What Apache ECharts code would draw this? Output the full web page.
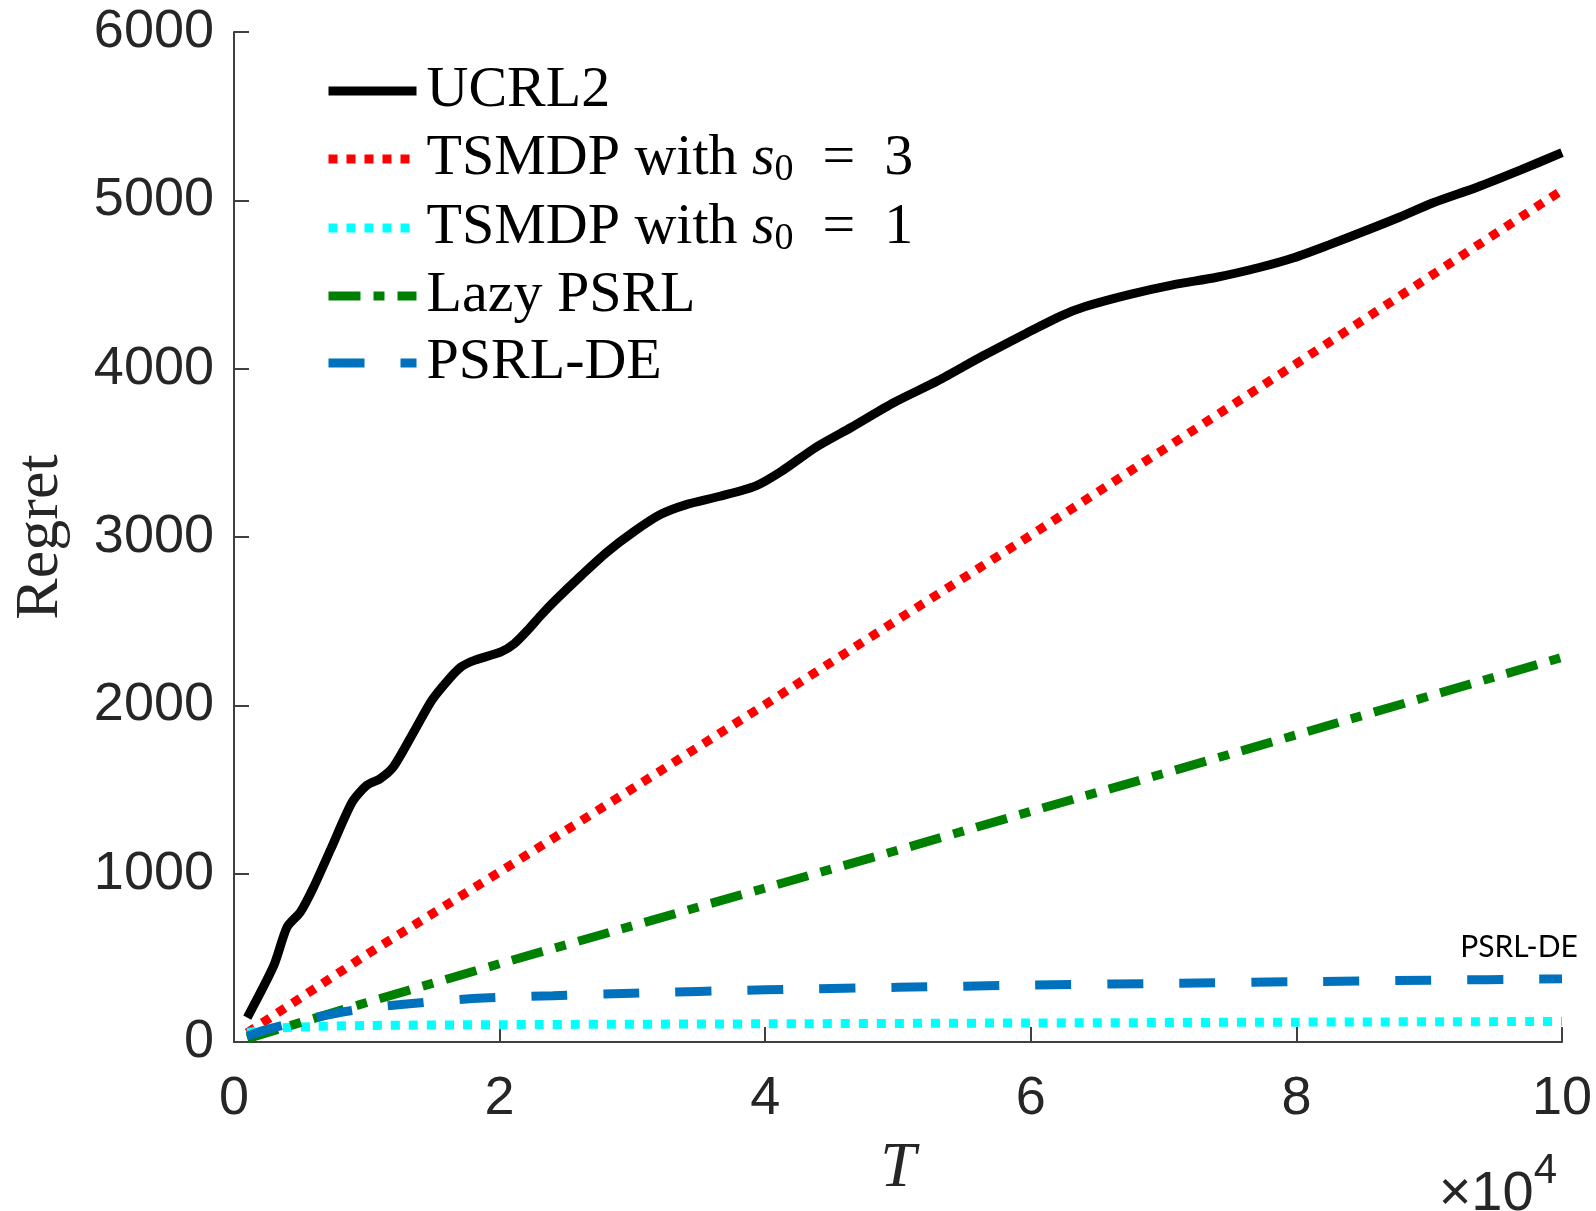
<!DOCTYPE html>
<html>
<head>
<meta charset="utf-8">
<script src="https://cdn.jsdelivr.net/npm/echarts@6/dist/echarts.min.js"></script>
<style>
  html, body { margin: 0; padding: 0; background: #fff; }
  #main { width: 1596px; height: 1211px; }
</style>
</head>
<body>
<div id="main"></div>
<script>
// T in units of 1e4
const ucrl2T = [0.1, 0.3, 0.4, 0.5, 0.6, 0.73, 0.89, 1.0, 1.1, 1.2, 1.36, 1.49, 1.61, 1.71, 1.81, 2.01, 2.11, 2.21, 2.31, 2.42, 2.62, 2.81, 3.01, 3.21, 3.4, 3.66, 3.93, 4.12, 4.38, 4.65, 4.97, 5.3, 5.63, 5.96, 6.22, 6.41, 6.74, 7.07, 7.4, 7.72, 7.98, 8.25, 8.51, 8.77, 9.03, 9.36, 9.69, 10];
const ucrl2Regret = [145, 455, 683, 772, 921, 1148, 1426, 1525, 1564, 1634, 1851, 2030, 2148, 2228, 2267, 2317, 2366, 2445, 2534, 2624, 2775, 2911, 3031, 3133, 3191, 3242, 3304, 3389, 3532, 3652, 3799, 3928, 4072, 4208, 4311, 4369, 4440, 4498, 4543, 4601, 4659, 4737, 4816, 4898, 4986, 5078, 5181, 5283];

const ts3T = [0.1, 1, 2, 3, 4, 5, 6, 7, 8, 9, 10];
const ts3Regret = [55, 520, 1010, 1505, 2005, 2510, 3010, 3520, 4030, 4545, 5060];

const ts1T = [0.1, 0.3, 0.6, 1, 2, 4, 6, 8, 10];
const ts1Regret = [55, 80, 92, 98, 103, 108, 113, 118, 122];

const lazyT = [0.1, 1, 2, 3, 4, 5, 6, 7, 8, 9, 10];
const lazyRegret = [20, 235, 465, 690, 915, 1140, 1370, 1595, 1825, 2055, 2285];

const deT = [0.1, 0.25, 0.5, 0.75, 1, 1.3, 1.8, 2.4, 3, 4, 5, 6, 7, 8, 9, 10];
const deRegret = [35, 75, 125, 168, 200, 226, 258, 275, 290, 310, 325, 338, 348, 358, 367, 375];

const seriesNames = ['UCRL2', 'TSMDP with s0 = 3', 'TSMDP with s0 = 1', 'Lazy PSRL', 'PSRL-DE'];
const xTicks = [0, 2, 4, 6, 8, 10];
const yTicks = [0, 1000, 2000, 3000, 4000, 5000, 6000];

const zip = (xs, ys) => xs.map((x, i) => [x, ys[i]]);

const chart = echarts.init(document.getElementById('main'), null, { renderer: 'canvas' });

const serif = 'Liberation Serif';
const sans = 'Liberation Sans';
const axisGray = '#404040';
const labelGray = '#262626';

const option = {
  backgroundColor: '#fff',
  animation: false,
  grid: { left: 234, right: 34, top: 32, bottom: 169, containLabel: false },
  legend: {
    orient: 'vertical',
    left: 324,
    top: 62,
    padding: 0,
    itemWidth: 88,
    itemHeight: 12,
    itemGap: 9,
    data: seriesNames,
    lineStyle: { width: 9 },
    itemStyle: { opacity: 0 },
    formatter: function (name) {
      const m = name.match(/^(.*)s0 = (\d)$/);
      if (m) {
        return '{f|' + m[1] + '}{i|s}{sub|0}{n|  =  ' + m[2] + '}';
      }
      return '{f|' + name + '}';
    },
    textStyle: {
      fontFamily: serif,
      fontSize: 58,
      color: '#000',
      rich: {
        f: { fontFamily: serif, fontSize: 58, lineHeight: 56, padding: [0, 0, 0, 5], color: '#000' },
        n: { fontFamily: serif, fontSize: 58, lineHeight: 56, color: '#000' },
        i: { fontFamily: serif, fontSize: 58, lineHeight: 56, fontStyle: 'italic', color: '#000' },
        sub: { fontFamily: serif, fontSize: 38, lineHeight: 30, padding: [22, 0, 0, 0], color: '#000' }
      }
    }
  },
  xAxis: {
    type: 'value',
    min: 0,
    max: 10,
    interval: 2,
    name: 'T',
    nameLocation: 'middle',
    nameGap: 95,
    nameTextStyle: { fontFamily: serif, fontSize: 64, fontStyle: 'italic', color: labelGray },
    axisLine: { lineStyle: { color: axisGray, width: 2 } },
    axisTick: { inside: true, length: 15, lineStyle: { color: axisGray, width: 2 } },
    axisLabel: {
      margin: 30,
      fontFamily: sans,
      fontSize: 54,
      color: labelGray,
      formatter: v => (xTicks.indexOf(v) >= 0 ? String(v) : '')
    },
    splitLine: { show: false }
  },
  yAxis: {
    type: 'value',
    min: 0,
    max: 6000,
    interval: 1000,
    name: 'Regret',
    nameLocation: 'middle',
    nameGap: 162,
    nameTextStyle: { fontFamily: serif, fontSize: 62, color: labelGray },
    axisLine: { show: true, lineStyle: { color: axisGray, width: 2 } },
    axisTick: { show: true, inside: true, length: 15, lineStyle: { color: axisGray, width: 2 } },
    axisLabel: {
      margin: 20,
      fontFamily: sans,
      fontSize: 54,
      color: labelGray,
      padding: [10, 0, 0, 0],
      formatter: v => (yTicks.indexOf(v) >= 0 ? String(v) : '')
    },
    splitLine: { show: false }
  },
  series: [
    {
      name: seriesNames[0],
      type: 'line',
      data: zip(ucrl2T, ucrl2Regret),
      symbol: 'none',
      smooth: 0.25,
      lineStyle: { color: '#000000', width: 9, type: 'solid', cap: 'butt' },
      itemStyle: { color: '#000000' }
    },
    {
      name: seriesNames[1],
      type: 'line',
      data: zip(ts3T, ts3Regret),
      symbol: 'none',
      lineStyle: { color: '#ff0000', width: 9, type: [9, 9], cap: 'butt' },
      itemStyle: { color: '#ff0000' }
    },
    {
      name: seriesNames[2],
      type: 'line',
      data: zip(ts1T, ts1Regret),
      symbol: 'none',
      smooth: 0.3,
      lineStyle: { color: '#00ffff', width: 9, type: [9, 9], cap: 'butt' },
      itemStyle: { color: '#00ffff' }
    },
    {
      name: seriesNames[3],
      type: 'line',
      data: zip(lazyT, lazyRegret),
      symbol: 'none',
      lineStyle: { color: '#008000', width: 9, type: [32, 13, 11, 13], cap: 'butt' },
      itemStyle: { color: '#008000' }
    },
    {
      name: seriesNames[4],
      type: 'line',
      data: zip(deT, deRegret),
      symbol: 'none',
      smooth: 0.3,
      lineStyle: { color: '#0072bd', width: 9, type: [36, 36], cap: 'butt' },
      itemStyle: { color: '#0072bd' }
    }
  ],
  graphic: [
    {
      type: 'text',
      x: 1557,
      y: 1195,
      style: {
        text: '{a|×10}{b|4}',
        align: 'right',
        verticalAlign: 'middle',
        rich: {
          a: { fontFamily: sans, fontSize: 56, lineHeight: 56, fill: labelGray, color: labelGray },
          b: { fontFamily: sans, fontSize: 42, lineHeight: 42, padding: [0, 0, 48, 0], fill: labelGray, color: labelGray }
        }
      }
    },
    {
      type: 'text',
      x: 1519,
      y: 947,
      style: {
        text: 'PSRL-DE',
        align: 'center',
        verticalAlign: 'middle',
        fontFamily: 'Lato',
        fontSize: 30,
        fill: '#000'
      }
    }
  ]
};

chart.setOption(option);
</script>
</body>
</html>
